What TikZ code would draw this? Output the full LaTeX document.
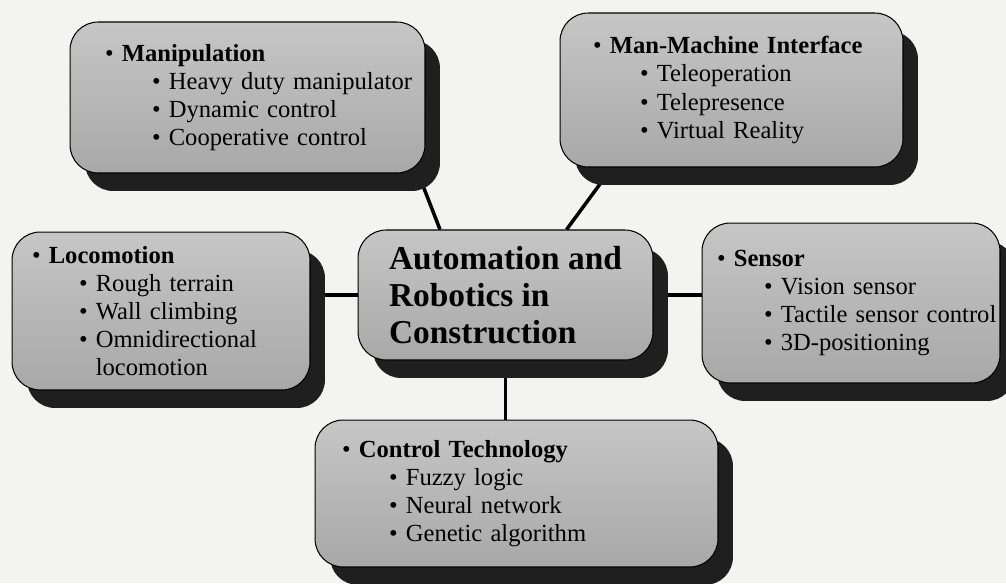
\documentclass[tikz,border=0pt]{standalone}
\usepackage{fontspec}
\setmainfont{Liberation Serif}
\usetikzlibrary{shadows,backgrounds}

\definecolor{paper}{RGB}{243,243,241}
\definecolor{facetop}{RGB}{198,198,198}
\definecolor{facebottom}{RGB}{168,168,168}

\newcommand{\topichead}[1]{\mbox{\textbullet\ \textbf{#1}}}
\newcommand{\topicitem}[1]{\hspace*{0.94cm}\mbox{\textbullet\ #1}}
\newcommand{\topicmore}[1]{\hspace*{0.94cm}\mbox{\phantom{\textbullet\ }#1}}

\tikzset{
  topic/.style={rectangle, rounded corners=16pt, draw=black, line width=0.6pt,
    top color=facetop, bottom color=facebottom, align=left,
    font=\fontsize{14}{16}\selectfont,
    drop shadow={shadow xshift=0.3cm, shadow yshift=-0.36cm, opacity=1, fill=black!88}},
  hubbox/.style={topic, font=\fontsize{19}{21}\selectfont\bfseries},
  link/.style={line width=2pt}
}

\begin{document}
\begin{tikzpicture}[x=0.02cm, y=-0.02cm]
  \clip (0,0) rectangle (1006,583);

  \node[hubbox, minimum width=5.9cm, minimum height=2.6cm] (hub) at (505.5,295)
    {Automation and\\Robotics in\\Construction};

  \node[topic, text width=5.7cm, inner xsep=0.7cm, minimum height=3.02cm] (manip) at (247.5,97.5)
    {\topichead{Manipulation}\\
     \topicitem{Heavy duty manipulator}\\
     \topicitem{Dynamic control}\\
     \topicitem{Cooperative control}};

  \node[topic, text width=5.54cm, inner xsep=0.66cm, minimum height=3.08cm] (mmi) at (731.5,90)
    {\topichead{Man-Machine Interface}\\
     \topicitem{Teleoperation}\\
     \topicitem{Telepresence}\\
     \topicitem{Virtual Reality}};

  \node[topic, text width=5.16cm, inner xsep=0.4cm, minimum height=3.16cm] (loco) at (161,311)
    {\topichead{Locomotion}\\
     \topicitem{Rough terrain}\\
     \topicitem{Wall climbing}\\
     \topicitem{Omnidirectional}\\
     \topicmore{locomotion}};

  \node[topic, text width=5.36cm, inner xsep=0.3cm, minimum height=3.2cm] (sensor) at (851,303)
    {\topichead{Sensor}\\
     \topicitem{Vision sensor}\\
     \topicitem{Tactile sensor control}\\
     \topicitem{3D-positioning}};

  \node[topic, text width=6.98cm, inner xsep=0.54cm, minimum height=2.94cm] (ctrl) at (516.5,493.5)
    {\topichead{Control Technology}\\
     \topicitem{Fuzzy logic}\\
     \topicitem{Neural network}\\
     \topicitem{Genetic algorithm}};

  \begin{pgfonlayer}{background}
    \fill[paper] (0,0) rectangle (1006,583);
    \draw[link] (hub.135) -- (manip.-24);
    \draw[link] (hub.47) -- (mmi.213);
    \draw[link] (hub.west) -- (hub.west -| loco.east);
    \draw[link] (hub.east) -- (hub.east -| sensor.west);
    \draw[link] (hub.south) -- (hub.south |- ctrl.north);
  \end{pgfonlayer}
\end{tikzpicture}
\end{document}
